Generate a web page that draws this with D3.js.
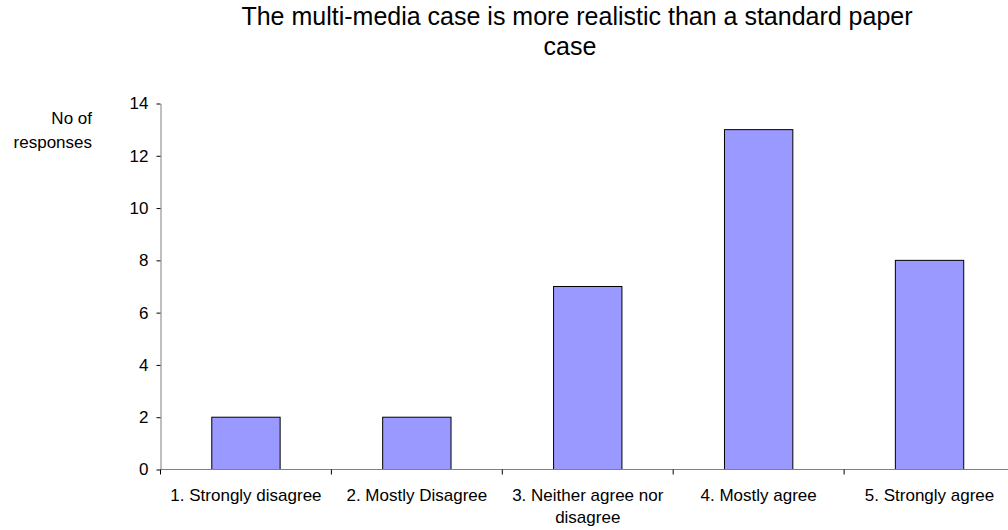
<!DOCTYPE html>
<html>
<head>
<meta charset="utf-8">
<script src="https://d3js.org/d3.v7.min.js"></script>
<style>
  body { margin: 0; background: #fff; }
  svg { font-family: "Liberation Sans", Arial, sans-serif; }
</style>
</head>
<body>
<svg id="chart"></svg>
<script>
// data
var categories = ['1. Strongly disagree', '2. Mostly Disagree', '3. Neither agree nor disagree', '4. Mostly agree', '5. Strongly agree'];
var responses = [2, 2, 7, 13, 8];
var yTicks = [0, 2, 4, 6, 8, 10, 12, 14];

var width = 1008;
var height = 530;
var plot = { left: 160.5, right: 1015, top: 103.5, bottom: 469.5 };

var svg = d3.select('#chart')
            .attr('width', width)
            .attr('height', height);

// Title
svg.append('text')
    .attr('x', 577).attr('y', 25)
    .attr('text-anchor', 'middle')
    .attr('font-size', 25)
    .text('The multi-media case is more realistic than a standard paper');
svg.append('text')
    .attr('x', 570).attr('y', 55)
    .attr('text-anchor', 'middle')
    .attr('font-size', 25)
    .text('case');

// Y label
svg.append('text')
    .attr('x', 92).attr('y', 124)
    .attr('text-anchor', 'end')
    .attr('font-size', 17)
    .text('No of');
svg.append('text')
    .attr('x', 92).attr('y', 148)
    .attr('text-anchor', 'end')
    .attr('font-size', 17)
    .text('responses');

// Scales
var xScale = d3.scaleBand()
               .domain(categories)
               .range([plot.left, plot.right])
               .paddingInner(0.6)
               .paddingOuter(0.3);

var yScale = d3.scaleLinear()
               .domain([0, 14])
               .range([plot.bottom, plot.top]);

// Bars
svg.selectAll('rect.bar')
    .data(categories)
    .enter()
    .append('rect')
      .classed('bar', true)
      .attr('x', d => xScale(d))
      .attr('y', (d, i) => yScale(responses[i]))
      .attr('width', xScale.bandwidth())
      .attr('height', (d, i) => plot.bottom - yScale(responses[i]))
      .attr('fill', '#9999ff')
      .attr('stroke', '#000')
      .attr('stroke-width', 1);

// Y axis
var yAxis = svg.append('g')
    .attr('transform', `translate(${plot.left}, 0)`)
    .call(d3.axisLeft(yScale)
            .tickValues(yTicks)
            .tickSize(4)
            .tickSizeOuter(0)
            .tickPadding(8));
yAxis.select('.domain').attr('stroke', '#808080');
yAxis.selectAll('.tick line').attr('stroke', '#000');
yAxis.selectAll('text')
    .attr('font-size', 17)
    .attr('font-family', '"Liberation Sans", Arial, sans-serif')
    .attr('fill', '#000');

// X axis: ticks at band boundaries
var step = xScale.step();
var boundaries = d3.range(categories.length + 1).map(i => plot.left + i * step);

svg.append('line')
    .attr('x1', plot.left).attr('x2', plot.right)
    .attr('y1', plot.bottom).attr('y2', plot.bottom)
    .attr('stroke', '#808080');

svg.selectAll('line.xtick')
    .data(boundaries)
    .enter()
    .append('line')
      .classed('xtick', true)
      .attr('x1', d => d).attr('x2', d => d)
      .attr('y1', plot.bottom).attr('y2', plot.bottom + 5)
      .attr('stroke', '#000');

// X labels (wrap long ones)
var labelLines = {
  '3. Neither agree nor disagree': ['3. Neither agree nor', 'disagree']
};
categories.forEach(function(c) {
  var lines = labelLines[c] || [c];
  var cx = xScale(c) + xScale.bandwidth() / 2;
  lines.forEach(function(t, j) {
    svg.append('text')
        .attr('x', cx)
        .attr('y', 501 + j * 22)
        .attr('text-anchor', 'middle')
        .attr('font-size', 17)
        .text(t);
  });
});
</script>
</body>
</html>
